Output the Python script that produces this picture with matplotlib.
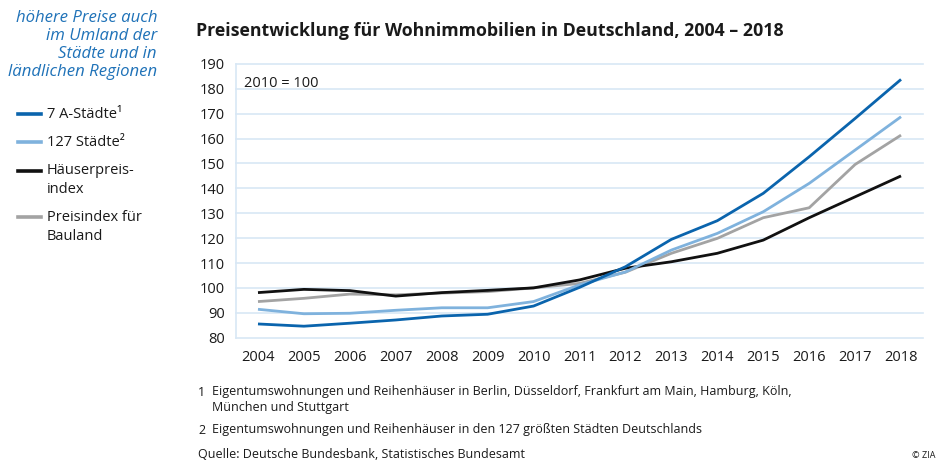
import matplotlib
matplotlib.use("Agg")
import matplotlib.pyplot as plt

FONT = ["Open Sans", "DejaVu Sans"]
plt.rcParams["font.family"] = FONT

years = list(range(2004, 2019))
a_staedte = [85.5, 84.6, 85.8, 87.1, 88.7, 89.4, 92.7, 100.2, 108.5, 119.5, 127.0, 138.0, 152.7, 168.1, 183.8]
staedte_127 = [91.4, 89.6, 89.8, 91.0, 92.0, 92.0, 94.5, 101.2, 106.4, 115.2, 121.9, 130.6, 142.0, 155.4, 168.8]
haeuserpreis = [98.1, 99.4, 98.9, 96.7, 98.1, 99.0, 100.0, 103.2, 107.9, 110.5, 113.9, 119.2, 128.2, 136.6, 145.0]
bauland = [94.5, 95.8, 97.5, 97.2, 97.9, 98.5, 100.0, 101.8, 106.3, 113.9, 119.9, 128.2, 132.2, 149.6, 161.4]
yticks = list(range(80, 200, 10))

INK = "#1a1a1a"
DARK_BLUE = "#0a64ad"
LIGHT_BLUE = "#7fb2dd"
BLACK = "#111111"
GRAY = "#a3a3a3"
GRID = "#d8e7f5"
ACCENT = "#1f72b8"

fig = plt.figure(figsize=(9.4, 4.67), dpi=100)
ax = fig.add_axes([0.251, 0.277, 0.731, 0.586])

ax.plot(years, haeuserpreis, color=BLACK, lw=2.0, solid_capstyle="butt", zorder=3)
ax.plot(years, bauland, color=GRAY, lw=2.0, solid_capstyle="butt", zorder=2)
ax.plot(years, staedte_127, color=LIGHT_BLUE, lw=2.0, solid_capstyle="butt", zorder=4)
ax.plot(years, a_staedte, color=DARK_BLUE, lw=2.0, solid_capstyle="butt", zorder=5)

ax.set_xlim(2003.52, 2018.48)
ax.set_ylim(80, 190)
for y in yticks:
    ax.axhline(y, color=GRID, lw=1.2, zorder=0, clip_on=False)
ax.set_yticks(yticks)
ax.set_xticks(years)
ax.tick_params(length=0, labelsize=10.5, colors=INK)
ax.tick_params(axis="y", pad=8)
ax.tick_params(axis="x", pad=9)
for s in ("top", "right", "bottom"):
    ax.spines[s].set_visible(False)
ax.spines["left"].set_color(GRID)
ax.spines["left"].set_linewidth(1.2)

ax.text(0.012, 0.955, "2010 = 100", transform=ax.transAxes, fontsize=10.5,
        color=INK, va="top", ha="left")

fig.text(196 / 940, 1 - 31 / 467, "Preisentwicklung für Wohnimmobilien in Deutschland, 2004 – 2018",
         fontsize=12.8, weight="bold", color=INK, va="center", ha="left")

fig.text(157 / 940, 1 - 10 / 467,
         "höhere Preise auch\nim Umland der\nStädte und in\nländlichen Regionen",
         fontsize=12.1, style="italic", color=ACCENT, ha="right", va="top",
         linespacing=1.16, multialignment="right")

legend_items = [
    ("7 A-Städte¹", DARK_BLUE, 114),
    ("127 Städte²", LIGHT_BLUE, 142),
    ("Häuserpreis-\nindex", BLACK, 180),
    ("Preisindex für\nBauland", GRAY, 227),
]
for label, color, ypix in legend_items:
    nlines = label.count("\n") + 1
    first = ypix - (nlines - 1) * 9.5
    fig.lines.append(plt.Line2D([18 / 940, 41 / 940], [1 - first / 467] * 2,
                                color=color, lw=2.6, transform=fig.transFigure))
    fig.text(47 / 940, 1 - ypix / 467, label, fontsize=10.5, color=INK,
             ha="left", va="center", linespacing=1.3)

fig.text(198 / 940, 1 - 393 / 467, "1", fontsize=9, color=INK, va="center")
fig.text(212 / 940, 1 - 400 / 467,
         "Eigentumswohnungen und Reihenhäuser in Berlin, Düsseldorf, Frankfurt am Main, Hamburg, Köln,\nMünchen und Stuttgart",
         fontsize=9, color=INK, va="center", linespacing=1.3)
fig.text(198 / 940, 1 - 430 / 467, "2", fontsize=9, color=INK, va="center")
fig.text(212 / 940, 1 - 430 / 467,
         "Eigentumswohnungen und Reihenhäuser in den 127 größten Städten Deutschlands",
         fontsize=9, color=INK, va="center")
fig.text(198 / 940, 1 - 455 / 467, "Quelle: Deutsche Bundesbank, Statistisches Bundesamt",
         fontsize=9, color=INK, va="center")
fig.text(935 / 940, 1 - 456 / 467, "© ZIA", fontsize=6.5, color=INK, va="center", ha="right")

fig.savefig("out.png", dpi=100, facecolor="white")
